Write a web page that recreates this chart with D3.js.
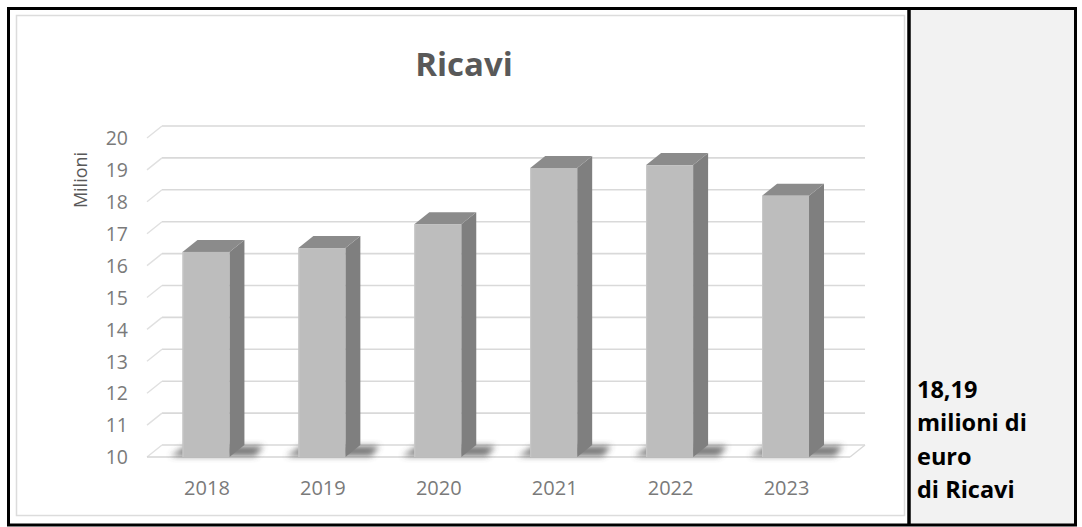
<!DOCTYPE html>
<html><head><meta charset="utf-8">
<script src="https://cdn.jsdelivr.net/npm/d3@7"></script>
<style>body{margin:0;background:#fff}svg{display:block}</style>
</head><body>
<script>
const categories = ["2018","2019","2020","2021","2022","2023"];
const ricavi = [16.43, 16.55, 17.30, 19.06, 19.15, 18.19];
const yTicks = [10,11,12,13,14,15,16,17,18,19,20];
const title = "Ricavi";
const yLabel = "Milioni";
const sideLines = ["18,19", "milioni di", "euro", "di Ricavi"];

const W = 1082, H = 527;
const svg = d3.select("body").append("svg").attr("width", W).attr("height", H);
const defs = svg.append("defs");
defs.append("filter").attr("id","blur").attr("x","-50%").attr("y","-100%").attr("width","200%").attr("height","300%")
  .append("feGaussianBlur").attr("stdDeviation", 3);

// background panels
svg.append("rect").attr("x",0).attr("y",0).attr("width",W).attr("height",H).attr("fill","#fff");
svg.append("rect").attr("x",909).attr("y",8).attr("width",166).attr("height",516).attr("fill","#f2f2f2");
// chart frame
svg.append("rect").attr("x",16.5).attr("y",15.5).attr("width",888).attr("height",500)
  .attr("fill","#fff").attr("stroke","#dcdcdc").attr("stroke-width",1.5);

const dx = 15, dy = 12;
const y = d3.scaleLinear().domain([10,20]).range([457,138]);
const x = d3.scaleBand().domain(categories).range([148,843.5]).padding(0);
const faceW = x.bandwidth()*0.405;
const left = 147, right = 850;

const g = svg.append("g");
// back wall gridlines + left wall diagonals
yTicks.forEach(v => {
  g.append("line").attr("x1", left+dx).attr("x2", right+dx).attr("y1", y(v)-dy).attr("y2", y(v)-dy)
    .attr("stroke","#d9d9d9").attr("stroke-width",1.6);
  g.append("line").attr("x1", left).attr("x2", left+dx).attr("y1", y(v)).attr("y2", y(v)-dy)
    .attr("stroke","#e0e0e0").attr("stroke-width",1.4);
});
// floor front edge and right diagonal
g.append("line").attr("x1",left).attr("x2",right).attr("y1",y(10)).attr("y2",y(10))
  .attr("stroke","#d4d4d4").attr("stroke-width",1.6);
g.append("line").attr("x1",right).attr("x2",right+dx).attr("y1",y(10)).attr("y2",y(10)-dy)
  .attr("stroke","#d9d9d9").attr("stroke-width",1.4);

// shadows
categories.forEach((c,i) => {
  const x0 = x(c) + (x.bandwidth()-faceW)/2, x1 = x0 + faceW, yb = y(10);
  g.append("path").attr("d", `M${x0-12},${yb-1} L${x1+26},${yb-1} L${x1+34},${yb-dy+1} L${x0+4},${yb-dy+1} Z`)
    .attr("fill","#4a4a4a").attr("opacity",0.75).attr("filter","url(#blur)");
});

// bars
categories.forEach((c,i) => {
  const v = ricavi[i];
  const x0 = x(c) + (x.bandwidth()-faceW)/2, x1 = x0 + faceW;
  const yt = y(v), yb = y(10);
  // side
  g.append("path").attr("d", `M${x1},${yt} L${x1+dx},${yt-dy} L${x1+dx},${yb-dy} L${x1},${yb} Z`).attr("fill","#7f7f7f");
  // top
  g.append("path").attr("d", `M${x0},${yt} L${x0+dx},${yt-dy} L${x1+dx},${yt-dy} L${x1},${yt} Z`).attr("fill","#8b8b8b");
  // front
  g.append("rect").attr("x",x0).attr("y",yt).attr("width",faceW).attr("height",yb-yt).attr("fill","#bdbdbd");
  g.append("line").attr("x1",x0+0.5).attr("x2",x0+0.5).attr("y1",yt).attr("y2",yb).attr("stroke","#c9c9c9").attr("stroke-width",1);
});

// y tick labels
const font = "'Open Sans', sans-serif";
yTicks.forEach(v => {
  svg.append("text").attr("x",128).attr("y",y(v)+2).attr("text-anchor","end").attr("dominant-baseline","middle")
    .attr("font-family",font).attr("font-size",19.5).attr("fill","#7a7a7a").text(v);
});
// x labels
categories.forEach(c => {
  svg.append("text").attr("x", x(c)+x.bandwidth()/2+1).attr("y",495).attr("text-anchor","middle")
    .attr("font-family",font).attr("font-size",20).attr("fill","#7a7a7a").text(c);
});
// y label
svg.append("text").attr("transform","translate(87,180) rotate(-90)").attr("text-anchor","middle")
  .attr("font-family",font).attr("font-size",18).attr("fill","#595959").text(yLabel);
// title
svg.append("text").attr("x",464).attr("y",76).attr("text-anchor","middle")
  .attr("font-family",font).attr("font-weight",700).attr("font-size",33).attr("fill","#595959").text(title);

// side text
sideLines.forEach((t,i) => {
  svg.append("text").attr("x",917).attr("y",398 + i*33.3)
    .attr("font-family",font).attr("font-weight",700).attr("font-size",23.5).attr("fill","#000").text(t);
});

// black borders
svg.append("rect").attr("x",8.5).attr("y",8.5).attr("width",1067).attr("height",516.5)
  .attr("fill","none").attr("stroke","#000").attr("stroke-width",3);
svg.append("line").attr("x1",909).attr("x2",909).attr("y1",8).attr("y2",525).attr("stroke","#000").attr("stroke-width",3.5);
</script>
</body></html>
